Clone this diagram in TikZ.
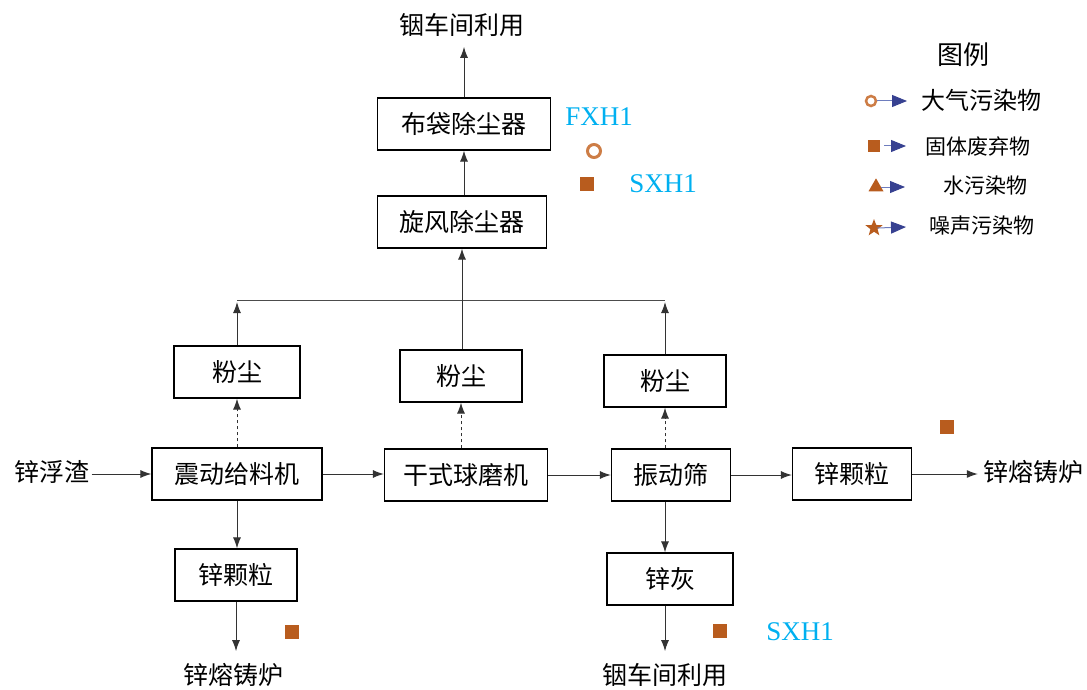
\documentclass[tikz,border=0pt]{standalone}
\usepackage{fontspec}
\setmainfont{Liberation Serif}
\newfontfamily\cjk{Noto Sans CJK SC}
\usetikzlibrary{arrows.meta,shapes.geometric}
\definecolor{cyanlbl}{RGB}{0,176,240}
\definecolor{brownsq}{RGB}{184,92,30}
\definecolor{ringc}{RGB}{205,125,70}
\definecolor{navy}{RGB}{55,65,145}
\definecolor{lineblue}{RGB}{110,125,190}
\begin{document}
\begin{tikzpicture}[x=1pt,y=-1pt,
  box/.style={draw=black, line width=1.2pt, minimum height=52pt, inner sep=0pt, font=\cjk\fontsize{25}{25}\selectfont},
  txt/.style={inner sep=0pt, font=\cjk\fontsize{25}{25}\selectfont},
  arr/.style={-{Latex[length=11pt,width=8pt]}, line width=1pt, draw=black!80},
  lbl/.style={inner sep=0pt, text=cyanlbl, font=\fontsize{27}{27}\selectfont},
  sq/.style={fill=brownsq, draw=none, minimum size=14pt, inner sep=0pt},
  legtxt/.style={inner sep=0pt, font=\cjk\fontsize{21}{21}\selectfont},
  legarr/.style={draw=lineblue, line width=1pt, -{Triangle[length=15pt,width=12pt,fill=navy,color=navy]}}]
\useasboundingbox (0,0) rectangle (1087,690);

% top chain
\node[txt] (top) at (462,25) {铟车间利用};
\node[box, minimum width=173pt] (bd) at (464,124) {布袋除尘器};
\node[box, minimum width=169pt] (xf) at (462,222) {旋风除尘器};

% dust boxes
\node[box, minimum width=126pt] (d1) at (237,372) {粉尘};
\node[box, minimum width=122pt] (d2) at (461,376) {粉尘};
\node[box, minimum width=122pt] (d3) at (665,381) {粉尘};

% main row
\node[txt] (in) at (52,472) {锌浮渣};
\node[box, minimum width=170pt] (m1) at (237,474) {震动给料机};
\node[box, minimum width=163pt] (m2) at (466,475) {干式球磨机};
\node[box, minimum width=119pt] (m3) at (671,475) {振动筛};
\node[box, minimum width=119pt] (m4) at (852,474) {锌颗粒};
\node[txt] (out) at (1033,472) {锌熔铸炉};

% bottom
\node[box, minimum width=122pt] (g2) at (236,575) {锌颗粒};
\node[txt] (out2) at (233,675) {锌熔铸炉};
\node[box, minimum width=126pt] (zh) at (670,579) {锌灰};
\node[txt] (top2) at (665,675) {铟车间利用};

% junction coordinates
\coordinate (j1) at (237,302);
\coordinate (j3) at (665,302);
\coordinate (jl) at (237,300);
\coordinate (jr) at (665,300);

% connectors
\draw[arr] (bd.north) -- ([yshift=-10pt]bd.north |- top.south);
\draw[arr] (xf.north -| bd) -- (bd.south);
\draw[line width=1pt, draw=black!70] (jl) -- (jr);
\draw[arr] (d1.north) -- (j1);
\draw[arr] (d3.north) -- (j3);
\draw[arr] (d2.north -| xf) -- (xf.south);

\draw[arr, dashed] (m1.north) -- (d1.south);
\draw[arr, dashed] (d2.south |- m2.north) -- (d2.south);
\draw[arr, dashed] (d3.south |- m3.north) -- (d3.south);

\draw[arr] ([xshift=2pt]in.east |- m1) -- (m1.west);
\draw[arr] (m1.east) -- (m1.east -| m2.west);
\draw[arr] (m2.east) -- (m2.east -| m3.west);
\draw[arr] (m3.east) -- (m3.east -| m4.west);
\draw[arr] (m4.east) -- ([xshift=-5pt]m4.east -| out.west);

\draw[arr] (m1.south) -- (m1.south |- g2.north);
\draw[arr] (g2.south) -- ([yshift=12pt]g2.south |- out2.north);
\draw[arr] (m3.south -| d3) -- (zh.north -| d3);
\draw[arr] (zh.south -| d3) -- ([yshift=12pt]top2.north);

% pollutant markers
\node[lbl] (fx) at (599,117) {FXH1};
\node[circle, draw=ringc, line width=3pt, minimum size=13pt, inner sep=0pt] (c1) at (594,151) {};
\node[sq] (s1) at (587,184) {};
\node[lbl] (sx1) at (663,184) {SXH1};
\node[sq] (s2) at (947,427) {};
\node[sq] (s3) at (292,632) {};
\node[sq] (s4) at (720,631) {};
\node[lbl] (sx2) at (800,632) {SXH1};

% legend
\node[inner sep=0pt, font=\cjk\fontsize{26}{26}\selectfont] (lg) at (963,55) {图例};
\node[circle, draw=ringc, line width=2.5pt, minimum size=10pt, inner sep=0pt] (lc) at (871,101) {};
\coordinate (la1) at (907,101);
\draw[legarr] (lc.east) -- (la1);
\node[legtxt, font=\cjk\fontsize{24}{24}\selectfont] (lt1) at (981,100) {大气污染物};

\node[sq, minimum size=12pt] (ls) at (874,146) {};
\coordinate (la2) at (906,146);
\draw[legarr] ([xshift=4pt]ls.east) -- (la2);
\node[legtxt] (lt2) at (978,146) {固体废弃物};

\node[isosceles triangle, isosceles triangle apex angle=60, shape border rotate=90, fill=brownsq, inner sep=0pt, minimum width=15pt, minimum height=11pt] (lt) at (876,187) {};
\coordinate (la3) at (905,187);
\draw[legarr] (lt.east) -- (la3);
\node[legtxt] (lt3) at (985,186) {水污染物};

\node[star, star points=5, star point ratio=2.4, fill=brownsq, inner sep=0pt, minimum size=18pt] (lst) at (874,228) {};
\coordinate (la4) at (906,227);
\draw[legarr] ([xshift=-2pt]lst.east) -- (la4);
\node[legtxt] (lt4) at (982,226) {噪声污染物};
\end{tikzpicture}
\end{document}
